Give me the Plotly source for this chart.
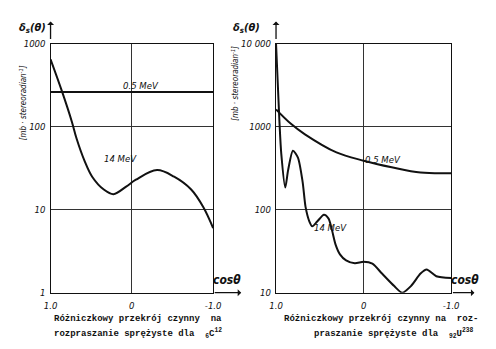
import plotly.graph_objects as go

W, H = 496, 349

# ---- data ----
# Left panel: 6C12
c_cos_05 = [1.0, -1.0]
c_sig_05 = [263, 263]
c_cos_14 = [1.0, 0.857, 0.738, 0.68, 0.583, 0.488, 0.345, 0.226, 0.07, -0.05, -0.31, -0.52, -0.73, -0.88, -1.0]
c_sig_14 = [650, 263, 115, 72, 39, 25, 17.5, 15.4, 19, 23, 30, 25, 17.5, 10.7, 6]

# Right panel: 92U238
u_cos_05 = [1.0, 0.83, 0.67, 0.31, 0.0, -0.32, -0.65, -1.0]
u_sig_05 = [1620, 1085, 810, 490, 390, 325, 280, 275]
u_cos_14 = [1.0, 0.961, 0.94, 0.895, 0.862, 0.807, 0.75, 0.696, 0.663, 0.619, 0.586, 0.53, 0.453,
            0.40, 0.36, 0.32, 0.27, 0.20, 0.10, 0.0, -0.1, -0.21, -0.35, -0.44, -0.54, -0.65, -0.72, -0.83, -1.0]
u_sig_14 = [10000, 1140, 470, 185, 300, 515, 425, 215, 108, 72, 63, 72, 87,
            78, 56, 38, 29, 24.5, 22.6, 23.6, 22.4, 17, 12, 10, 12, 17, 19, 15.8, 15]

x_tickvals = [1, 0, -1]
x_ticktext = ["1.0", "0", "-1.0"]
c_y_tickvals = [1, 10, 100, 1000]
c_y_ticktext = ["1", "10", "100", "1000"]
u_y_tickvals = [10, 100, 1000, 10000]
u_y_ticktext = ["10", "100", "1000", "10 000"]

# ---- figure ----
TICKFONT = dict(family="Liberation Sans Narrow, DejaVu Sans Condensed, Liberation Sans, Arial",
                size=9.5, color="#111", style="italic")
LINE = dict(color="#111", width=2)

fig = go.Figure()
fig.add_trace(go.Scatter(x=c_cos_05, y=c_sig_05, mode="lines", line=LINE, xaxis="x", yaxis="y"))
fig.add_trace(go.Scatter(x=c_cos_14, y=c_sig_14, mode="lines", line=dict(LINE, shape="spline", smoothing=1.0), xaxis="x", yaxis="y"))
fig.add_trace(go.Scatter(x=u_cos_05, y=u_sig_05, mode="lines", line=dict(LINE, shape="spline", smoothing=1.0), xaxis="x2", yaxis="y2"))
fig.add_trace(go.Scatter(x=u_cos_14, y=u_sig_14, mode="lines", line=dict(LINE, shape="spline", smoothing=0.7), xaxis="x2", yaxis="y2"))

def px(x):
    return x / W

def py(y):
    return (H - y) / H

ydom = [py(296), py(39)]

common_x = dict(range=[1, -1], tickvals=x_tickvals, ticktext=x_ticktext,
                showgrid=True, gridcolor="#333", gridwidth=1, showline=True, mirror=True,
                linecolor="#111", linewidth=1.3, ticks="", zeroline=False, tickfont=TICKFONT,
                ticklabelstandoff=4)
common_y = dict(type="log", showgrid=True, gridcolor="#333", gridwidth=1, showline=True, mirror=True,
                linecolor="#111", linewidth=1.3, ticks="", zeroline=False, tickfont=TICKFONT, domain=ydom,
                ticklabelstandoff=2)

fig.update_layout(
    width=W, height=H, margin=dict(l=0, r=0, t=0, b=0),
    paper_bgcolor="white", plot_bgcolor="white", showlegend=False,
    xaxis=dict(common_x, domain=[px(45), px(213)], anchor="y"),
    yaxis=dict(common_y, range=[0, 3], tickvals=c_y_tickvals, ticktext=c_y_ticktext, anchor="x"),
    xaxis2=dict(common_x, domain=[px(278), px(459)], anchor="y2"),
    yaxis2=dict(common_y, range=[1, 4], tickvals=u_y_tickvals, ticktext=u_y_ticktext, anchor="x2"),
)

ann = []
# axis arrows
for xa, ya, axo, ayo in [(45, 16, 0, 23), (278, 16, 0, 23), (242, 296, -29, 0), (483, 296, -24, 0)]:
    ann.append(dict(x=px(xa), y=py(ya), xref="paper", yref="paper", text=" ", showarrow=True,
                    font=dict(size=6), ax=axo, ay=ayo, arrowhead=1, arrowsize=0.9, arrowwidth=1.3,
                    arrowcolor="#111", standoff=0))

LBL = dict(family="DejaVu Sans Condensed, DejaVu Sans, Arial", size=11, color="#111",
           style="italic", weight="bold")
# axis titles
for xa, ya in [(42, 23), (264, 23)]:
    ann.append(dict(x=px(xa), y=py(ya), xref="paper", yref="paper", xanchor="right", yanchor="middle",
                    text="δ<sub>s</sub>(θ)", showarrow=False, font=LBL))
for xa, ya in [(244, 283), (490, 283)]:
    ann.append(dict(x=px(xa), y=py(ya), xref="paper", yref="paper", xanchor="right", yanchor="middle",
                    text="cosθ", showarrow=False, font=dict(LBL, size=12)))
VL = dict(family="DejaVu Sans Condensed, DejaVu Sans, Arial", size=8, color="#111", style="italic")
for xa, ya in [(16, 100), (236, 80)]:
    ann.append(dict(x=px(xa), y=py(ya), xref="paper", yref="paper", xanchor="center", yanchor="middle",
                    textangle=-90, text="[mb · stereoradian<sup>-1</sup>]", showarrow=False, font=VL))
# curve labels
CL = dict(family="Liberation Sans Narrow, DejaVu Sans Condensed, Arial", size=9.5, color="#111", style="italic")
ann += [
    dict(x=px(118), y=py(74), xref="paper", yref="paper", text="0.5 MeV", showarrow=False, font=CL),
    dict(x=px(98), y=py(157), xref="paper", yref="paper", text="14 MeV", showarrow=False, font=CL),
    dict(x=px(409), y=py(158), xref="paper", yref="paper", text="0.5 MeV", showarrow=False, font=CL),
    dict(x=px(353), y=py(229), xref="paper", yref="paper", text="14 MeV", showarrow=False, font=CL),
]
# captions
CAP = dict(family="Liberation Mono, Courier New, monospace", size=9, color="#111", weight="bold")
ann += [
    dict(x=px(47), y=py(323), xref="paper", yref="paper", xanchor="left", yanchor="middle",
         text="Różniczkowy przekrój czynny  na", showarrow=False, font=CAP),
    dict(x=px(47), y=py(338), xref="paper", yref="paper", xanchor="left", yanchor="middle",
         text="rozpraszanie sprężyste dla  <sub>6</sub>C<sup>12</sup>", showarrow=False, font=CAP),
    dict(x=px(284), y=py(323), xref="paper", yref="paper", xanchor="left", yanchor="middle",
         text="Różniczkowy przekrój czynny na  roz-", showarrow=False, font=CAP),
    dict(x=px(315), y=py(338), xref="paper", yref="paper", xanchor="left", yanchor="middle",
         text="praszanie sprężyste dla  <sub>92</sub>U<sup>238</sup>", showarrow=False, font=CAP),
]
fig.update_layout(annotations=ann)

fig.write_html("out.html")
